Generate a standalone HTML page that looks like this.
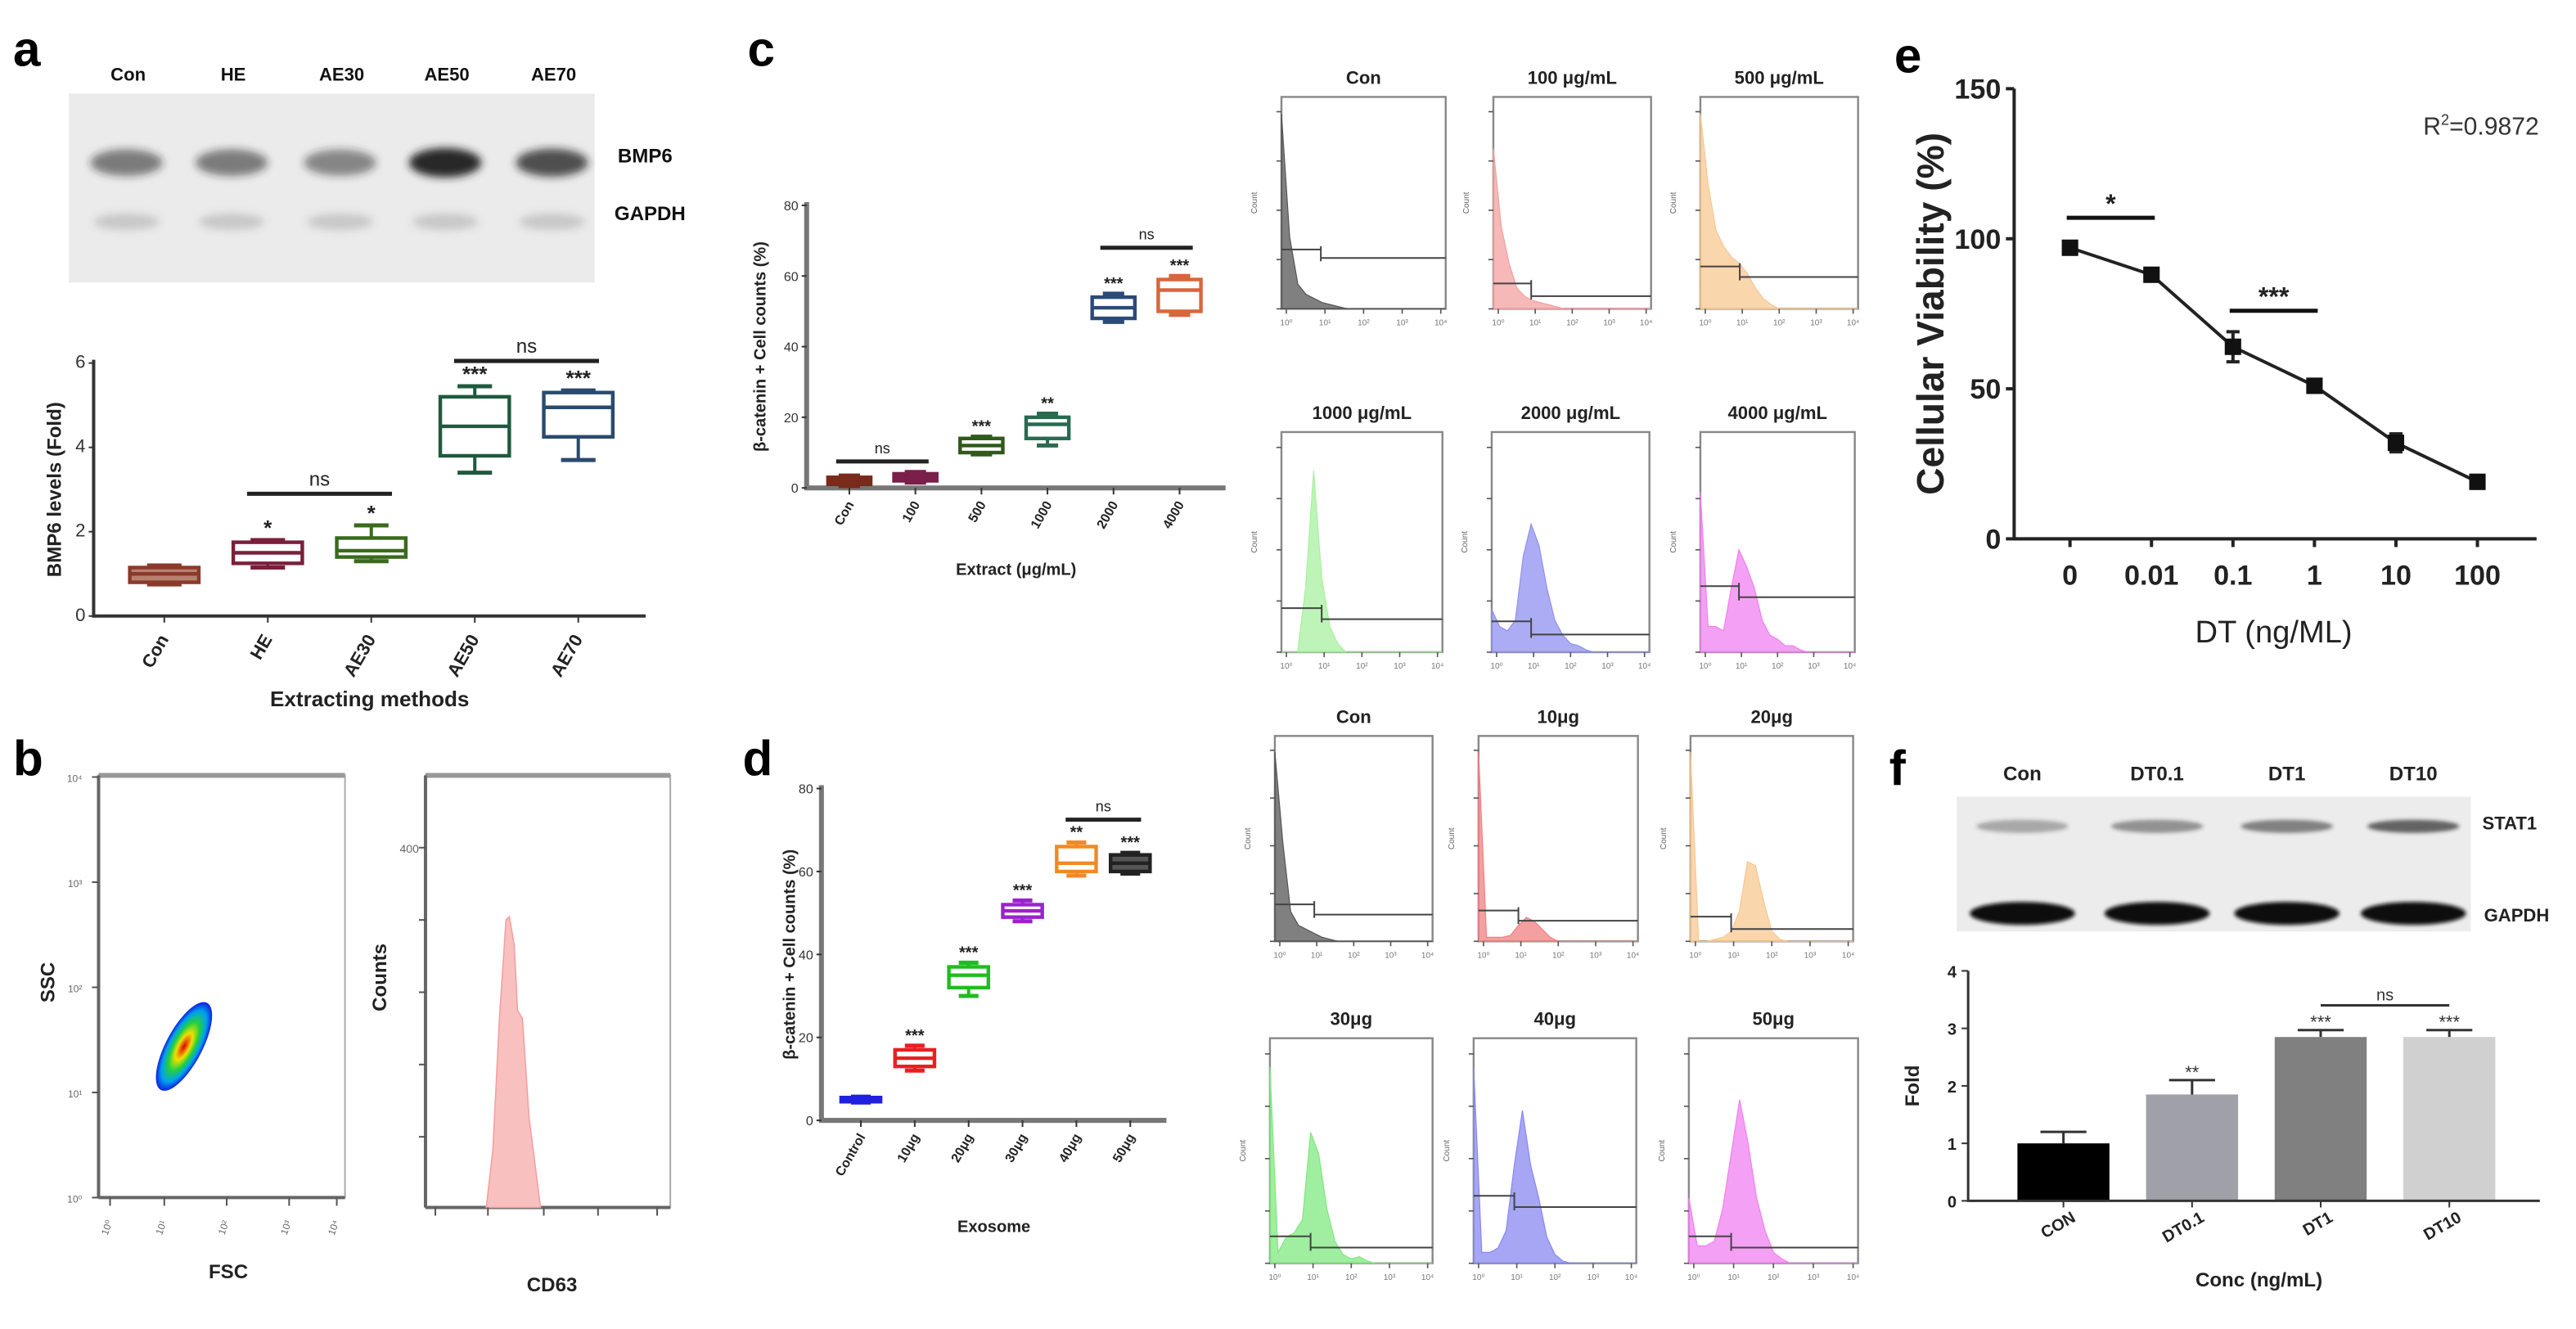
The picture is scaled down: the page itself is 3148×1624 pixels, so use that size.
<!DOCTYPE html>
<html><head><meta charset="utf-8">
<style>
html,body{margin:0;padding:0;background:#fff;}
svg{display:block;font-family:"Liberation Sans",Arial,sans-serif;}
</style></head>
<body>
<svg id="fig" width="3148" height="1624" viewBox="0 0 1568 809" preserveAspectRatio="none" xmlns="http://www.w3.org/2000/svg">
<defs>
<filter id="blur2" x="-30%" y="-80%" width="160%" height="260%"><feGaussianBlur stdDeviation="2.5"/></filter>
<filter id="blur1" x="-30%" y="-80%" width="160%" height="260%"><feGaussianBlur stdDeviation="1.2"/></filter>
<radialGradient id="dens" cx="50%" cy="50%" r="50%">
<stop offset="0" stop-color="#e00000"/><stop offset="0.3" stop-color="#f0e000"/><stop offset="0.55" stop-color="#20d040"/><stop offset="0.8" stop-color="#00a0f0"/><stop offset="1" stop-color="#1020e0"/>
</radialGradient>
</defs>
</svg>
<script>
var aCats=['Con','HE','AE30','AE50','AE70'];
var aLo=[0.75,1.15,1.3,3.4,3.7];
var aQ1=[0.8,1.25,1.4,3.8,4.25];
var aMed=[1.0,1.5,1.55,4.5,4.95];
var aQ3=[1.15,1.75,1.85,5.2,5.3];
var aHi=[1.2,1.8,2.15,5.45,5.35];
var aStars=['','*','*','***','***'];
var aTicks=[0,2,4,6];

var cCats=['Con','100','500','1000','2000','4000'];
var cLo=[0.5,1.5,9.5,12,47,49];
var cQ1=[1,2,10,14,48,50];
var cMed=[2,3,12,18,51,56];
var cQ3=[3,4,14,20,54,59];
var cHi=[3.5,4.5,14.5,21,55,60];
var cStars=['','','***','**','***','***'];
var cTicks=[0,20,40,60,80];

var dCats=['Control','10μg','20μg','30μg','40μg','50μg'];
var dLo=[4.3,12,30,48,59,59.5];
var dQ1=[4.5,13,32,49,60,60];
var dMed=[5,15,35,50.5,62,62];
var dQ3=[5.5,17,37,52,66,64];
var dHi=[5.7,18,38,53,67,64.5];
var dStars=['','***','***','***','**','***'];
var dTicks=[0,20,40,60,80];

var eX=['0','0.01','0.1','1','10','100'];
var eY=[97,88,64,51,32,19];
var eErr=[2,1.5,5,2,3,1.5];
var eTicks=[0,50,100,150];

var fCats=['CON','DT0.1','DT1','DT10'];
var fVal=[1.0,1.85,2.85,2.85];
var fErr=[0.2,0.25,0.12,0.12];
var fStars=['','**','***','***'];
var fTicks=[0,1,2,3,4];

var flowTitles=['Con','100 μg/mL','500 μg/mL','1000 μg/mL','2000 μg/mL','4000 μg/mL','Con','10μg','20μg','30μg','40μg','50μg'];
var flowProfiles=[
[0.95,0.35,0.12,0.07,0.05,0.03,0.02,0.01,0,0,0,0,0,0,0,0,0,0,0,0,0],
[0.78,0.4,0.22,0.1,0.06,0.04,0.03,0.02,0.01,0,0,0,0,0,0,0,0,0,0,0,0],
[0.95,0.6,0.38,0.3,0.25,0.22,0.17,0.1,0.05,0.02,0,0,0,0,0,0,0,0,0,0,0],
[0,0,0,0.3,0.85,0.35,0.12,0.04,0,0,0,0,0,0,0,0,0,0,0,0,0],
[0.2,0.12,0.1,0.15,0.45,0.6,0.5,0.3,0.15,0.08,0.04,0.03,0.01,0,0,0,0,0,0,0,0],
[0.75,0.12,0.12,0.1,0.3,0.48,0.4,0.3,0.15,0.08,0.06,0.03,0.03,0.01,0,0,0,0,0,0,0],
[0.95,0.5,0.15,0.08,0.06,0.04,0.02,0.01,0,0,0,0,0,0,0,0,0,0,0,0,0],
[0.95,0.02,0.02,0.02,0.03,0.08,0.12,0.1,0.06,0.02,0,0,0,0,0,0,0,0,0,0,0],
[0.95,0,0,0.01,0.02,0.05,0.15,0.4,0.38,0.2,0.05,0.01,0,0,0,0,0,0,0,0,0],
[0.9,0.05,0.12,0.14,0.2,0.6,0.5,0.25,0.1,0.04,0.02,0.03,0.01,0,0,0,0,0,0,0,0],
[0.9,0.05,0.05,0.07,0.15,0.45,0.7,0.45,0.3,0.12,0.04,0.01,0,0,0,0,0,0,0,0,0],
[0.3,0.08,0.08,0.1,0.25,0.5,0.75,0.55,0.3,0.15,0.05,0.02,0,0,0,0,0,0,0,0,0]];
var flowGates=[[0.24,0.28,0.24],[0.24,0.12,0.06],[0.25,0.2,0.15],[0.25,0.2,0.15],[0.25,0.14,0.08],[0.25,0.3,0.25],[0.25,0.18,0.13],[0.25,0.15,0.1],[0.25,0.12,0.06],[0.25,0.12,0.07],[0.25,0.3,0.25],[0.25,0.12,0.07]];

var SVGNS='http://www.w3.org/2000/svg';
var root=document.getElementById('fig');
var SUP=['\u2070','\u00B9','\u00B2','\u00B3','\u2074'];
function mk(tag,attrs,par){var e=document.createElementNS(SVGNS,tag);for(var k in attrs){e.setAttribute(k,String(attrs[k]));}(par||root).appendChild(e);return e;}
function txt(x,y,s,attrs,par){var a={x:x,y:y};if(attrs){for(var k in attrs){a[k]=attrs[k];}}var e=mk('text',a,par);e.textContent=s;return e;}
function group(nm){var g=mk('g',{});


return g;}
function label(el,nm){


return el;}

function drawLetters(){
  var letters=[['a',8,40],['c',455,40],['b',8,472],['d',452,472],['e',1153,44],['f',1150,478]];
  letters.forEach(function(l){var t=txt(l[1],l[2],l[0],{'font-size':30,'font-weight':'bold',fill:'#000'});
  
  });
}

function boxPlot(nm,cfg){
  var g=group(nm);
  var sy=function(v){return cfg.y0-(v/cfg.vmax)*(cfg.y0-cfg.yTop);};
  var sx=function(i){return cfg.xs+i*cfg.step;};
  label(mk('path',{d:'M'+cfg.x0+','+(cfg.yTop-2)+'V'+cfg.y0+'H'+cfg.x1,fill:'none',stroke:cfg.axisColor,'stroke-width':cfg.axisW},g),'axis-lines');
  cfg.ticks.forEach(function(t){
    mk('line',{x1:cfg.x0-3,x2:cfg.x0,y1:sy(t),y2:sy(t),stroke:'#333','stroke-width':1},g);
    label(txt(cfg.x0-5,sy(t)+3,String(t),{'font-size':cfg.tf,'text-anchor':'end',fill:'#333'},g),'y-tick-label');
  });
  cfg.cats.forEach(function(c,i){
    var x=sx(i),w=cfg.bw,col=cfg.colors[i];
    var b=mk('g',{},g);
    
    
    mk('line',{x1:x,x2:x,y1:sy(cfg.hi[i]),y2:sy(cfg.lo[i]),stroke:col,'stroke-width':2},b);
    mk('line',{x1:x-w*0.25,x2:x+w*0.25,y1:sy(cfg.hi[i]),y2:sy(cfg.hi[i]),stroke:col,'stroke-width':2.5},b);
    mk('line',{x1:x-w*0.25,x2:x+w*0.25,y1:sy(cfg.lo[i]),y2:sy(cfg.lo[i]),stroke:col,'stroke-width':2.5},b);
    mk('rect',{x:x-w/2,y:sy(cfg.q3[i]),width:w,height:Math.max(1.5,sy(cfg.q1[i])-sy(cfg.q3[i])),fill:cfg.fill[i],stroke:col,'stroke-width':2.2},b);
    mk('line',{x1:x-w/2,x2:x+w/2,y1:sy(cfg.med[i]),y2:sy(cfg.med[i]),stroke:col,'stroke-width':2.2},b);
    mk('line',{x1:x,x2:x,y1:cfg.y0,y2:cfg.y0+4,stroke:'#333','stroke-width':1},g);
    if(cfg.stars[i]){label(txt(x,sy(Math.max(cfg.hi[i],cfg.q3[i]))-3,cfg.stars[i],{'font-size':cfg.tf+2,'text-anchor':'middle','font-weight':'bold',fill:'#222'},g),'significance-stars');}
    var ly=cfg.y0+cfg.labOff;
    label(txt(x+3,ly,c,{'font-size':cfg.tf,'text-anchor':'end','font-weight':'bold',fill:'#222',transform:'rotate(-60 '+(x+3)+' '+ly+')'},g),'x-tick-label');
  });
  cfg.ns.forEach(function(n){
    var yy=sy(n[2]);
    mk('line',{x1:sx(n[0])-cfg.step*0.2,x2:sx(n[1])+cfg.step*0.2,y1:yy,y2:yy,stroke:'#222','stroke-width':2.5},g);
    label(txt((sx(n[0])+sx(n[1]))/2,yy-5,'ns',{'font-size':cfg.tf+1,'text-anchor':'middle',fill:'#222'},g),'ns-label');
  });
  label(txt(0,0,cfg.ylab,{'font-size':cfg.yf,'font-weight':'bold','text-anchor':'middle',fill:'#222',transform:'translate('+cfg.ylx+','+((cfg.y0+cfg.yTop)/2)+') rotate(-90)'},g),'y-axis-title');
  label(txt((cfg.x0+cfg.x1)/2,cfg.xly,cfg.xlab,{'font-size':cfg.xf,'font-weight':'bold','text-anchor':'middle',fill:'#222'},g),'x-axis-title');
}

function drawBlotA(){
  var g=group('western-blot-a');
  mk('rect',{x:42,y:57,width:130,height:115,fill:'#ebebeb'},g);
  mk('rect',{x:42,y:57,width:360,height:115,fill:'#fff'},g);
  mk('rect',{x:42,y:57,width:320,height:115,fill:'#ebebeb'},g);
  var lx=[78,142,208,272,337];
  var bI=[0.55,0.55,0.5,0.95,0.75];
  aCats.forEach(function(c,i){
    label(txt(lx[i],49,c,{'font-size':11,'text-anchor':'middle',fill:'#111','font-weight':'bold'},g),'lane-label');
    label(mk('ellipse',{cx:lx[i]-1,cy:99,rx:22,ry:7+bI[i]*2,fill:'rgba(30,30,30,'+bI[i]+')',filter:'url(#blur2)'},g),'band-bmp6');
    label(mk('ellipse',{cx:lx[i]-1,cy:135,rx:20,ry:5,fill:'rgba(90,90,90,0.25)',filter:'url(#blur2)'},g),'band-gapdh');
  });
  label(txt(376,99,'BMP6',{'font-size':12,'font-weight':'bold',fill:'#111'},g),'protein-label-bmp6');
  label(txt(374,134,'GAPDH',{'font-size':12,'font-weight':'bold',fill:'#111'},g),'protein-label-gapdh');
}

function drawB(){
  var g=group('scatter-ssc-fsc');
  mk('rect',{x:60,y:472,width:150,height:257,fill:'#fff',stroke:'#aaa','stroke-width':1},g);
  mk('line',{x1:60,x2:210,y1:472,y2:472,stroke:'#999','stroke-width':3},g);
  mk('line',{x1:60,x2:210,y1:729,y2:729,stroke:'#666','stroke-width':2},g);
  mk('line',{x1:60,x2:60,y1:472,y2:729,stroke:'#666','stroke-width':2},g);
  for(var i=0;i<5;i++){var y=729-i*64;mk('line',{x1:56,x2:60,y1:y,y2:y,stroke:'#555'},g);
    label(txt(50,y+3,'10'+SUP[i],{'font-size':6,fill:'#666','text-anchor':'end'},g),'y-tick-label');}
  [67,100,138,176,205].forEach(function(x,i){mk('line',{x1:x,x2:x,y1:729,y2:734,stroke:'#555'},g);
    label(txt(x,748,'10'+SUP[i],{'font-size':6,fill:'#666','text-anchor':'middle',transform:'rotate(-70 '+x+' 748)'},g),'x-tick-label');});
  label(mk('ellipse',{cx:112,cy:637,rx:11,ry:30,fill:'url(#dens)',transform:'rotate(28 112 637)'},g),'density-contour');
  label(txt(0,0,'SSC',{'font-size':12,'font-weight':'bold',fill:'#222','text-anchor':'middle',transform:'translate(33,598) rotate(-90)'},g),'y-axis-title');
  label(txt(139,778,'FSC',{'font-size':12,'font-weight':'bold',fill:'#222','text-anchor':'middle'},g),'x-axis-title');

  var h=group('histogram-cd63');
  mk('rect',{x:259,y:472,width:149,height:263,fill:'#fff',stroke:'#aaa','stroke-width':1},h);
  mk('line',{x1:259,x2:408,y1:472,y2:472,stroke:'#999','stroke-width':3},h);
  mk('line',{x1:259,x2:408,y1:735,y2:735,stroke:'#666','stroke-width':2},h);
  mk('line',{x1:259,x2:259,y1:472,y2:735,stroke:'#666','stroke-width':2},h);
  label(mk('path',{d:'M296,735 L300,700 L304,620 L308,560 L310,558 L313,575 L315,615 L318,620 L322,680 L329,735 Z',fill:'#f9c0c0',stroke:'#f4a0a0','stroke-width':0.8},h),'cd63-peak');
  label(txt(255,519,'400',{'font-size':7,fill:'#666','text-anchor':'end'},h),'y-tick-label');
  [516,560,604,648,692].forEach(function(y){mk('line',{x1:255,x2:259,y1:y,y2:y,stroke:'#555'},h);});
  [265,297,331,364,400].forEach(function(x){mk('line',{x1:x,x2:x,y1:735,y2:740,stroke:'#555'},h);});
  label(txt(0,0,'Counts',{'font-size':12,'font-weight':'bold',fill:'#222','text-anchor':'middle',transform:'translate(235,595) rotate(-90)'},h),'y-axis-title');
  label(txt(336,786,'CD63',{'font-size':12,'font-weight':'bold',fill:'#222','text-anchor':'middle'},h),'x-axis-title');
}

function drawFlow(){
  var fr=[[780,59,100,129],[909,59,96,129],[1035,59,96,129],
          [780,263,98,134],[908,263,96,134],[1035,263,94,134],
          [776,448,96,125],[900,448,97,125],[1029,448,99,125],
          [773,632,99,137],[897,632,99,137],[1028,632,103,137]];
  var cols=['#555','#f4a0a0','#f8c890','#a8f0a0','#9090f0','#f080f0','#555','#f08080','#f8c890','#80e880','#8888f0','#f080f0'];
  flowTitles.forEach(function(title,i){
    var x=fr[i][0],y=fr[i][1],w=fr[i][2],h=fr[i][3];
    var g=group('flow-histogram-'+(i+1));
    mk('rect',{x:x,y:y,width:w,height:h,fill:'#fff',stroke:'#888','stroke-width':1.2},g);
    var pr=flowProfiles[i];var d='M'+x+','+(y+h);
    pr.forEach(function(v,k){d+=' L'+(x+k*w/(pr.length-1))+','+(y+h-v*h*0.97);});
    d+=' L'+(x+w)+','+(y+h)+' Z';
    label(mk('path',{d:d,fill:cols[i],'fill-opacity':0.75,stroke:cols[i],'stroke-width':0.6},g),'histogram-fill');
    var gt=flowGates[i];var gx=x+gt[0]*w,gy1=y+h-gt[1]*h,gy2=y+h-gt[2]*h;
    label(mk('path',{d:'M'+x+','+gy1+'H'+gx+'M'+gx+','+(gy1-2)+'V'+(gy2+2)+'M'+gx+','+gy2+'H'+(x+w),fill:'none',stroke:'#444','stroke-width':1},g),'gate-marker');
    for(var k=0;k<5;k++){var yy=y+h-k*h/4.3;mk('line',{x1:x-3,x2:x,y1:yy,y2:yy,stroke:'#555','stroke-width':0.8},g);}
    for(var k2=0;k2<5;k2++){var xx=x+3+k2*(w-6)/4;mk('line',{x1:xx,x2:xx,y1:y+h,y2:y+h+3,stroke:'#555','stroke-width':0.8},g);
      label(txt(xx,y+h+10,'10'+SUP[k2],{'font-size':5,fill:'#777','text-anchor':'middle'},g),'x-tick-label');}
    label(txt(0,0,'Count',{'font-size':5,fill:'#666','text-anchor':'middle',transform:'translate('+(x-15)+','+(y+h/2)+') rotate(-90)'},g),'y-axis-title');
    label(txt(x+w/2,y-8,title,{'font-size':11,'font-weight':'bold',fill:'#222','text-anchor':'middle'},g),'histogram-title');
  });
}

function drawE(){
  var g=group('line-chart-e');
  var x0=1226,x1=1544,y0=328,yTop=54;
  var sy=function(v){return y0-v/150*(y0-yTop);};
  var sx=function(i){return 1260+i*49.6;};
  label(mk('path',{d:'M'+x0+','+yTop+'V'+y0+'H'+x1,fill:'none',stroke:'#222','stroke-width':2},g),'axis-lines');
  eTicks.forEach(function(t){mk('line',{x1:x0-5,x2:x0,y1:sy(t),y2:sy(t),stroke:'#222','stroke-width':2},g);
    label(txt(x0-8,sy(t)+6,String(t),{'font-size':17,'font-weight':'bold','text-anchor':'end',fill:'#222'},g),'y-tick-label');});
  var d='';
  eX.forEach(function(c,i){d+=(i?'L':'M')+sx(i)+','+sy(eY[i]);
    mk('line',{x1:sx(i),x2:sx(i),y1:y0,y2:y0+5,stroke:'#222','stroke-width':2},g);
    label(txt(sx(i),y0+28,c,{'font-size':17,'font-weight':'bold','text-anchor':'middle',fill:'#222'},g),'x-tick-label');});
  label(mk('path',{d:d,fill:'none',stroke:'#222','stroke-width':2},g),'viability-line');
  eX.forEach(function(c,i){
    var pg=mk('g',{},g);
    
    
    var t1=sy(eY[i]+eErr[i]),t2=sy(eY[i]-eErr[i]);
    mk('path',{d:'M'+(sx(i)-4)+','+t1+'H'+(sx(i)+4)+'M'+sx(i)+','+t1+'V'+t2+'M'+(sx(i)-4)+','+t2+'H'+(sx(i)+4),stroke:'#222','stroke-width':2,fill:'none'},pg);
    mk('rect',{x:sx(i)-5,y:sy(eY[i])-5,width:10,height:10,fill:'#111'},pg);
  });
  [[0,1,107,'*'],[2,3,76,'***']].forEach(function(s){
    var yy=sy(s[2]);mk('line',{x1:sx(s[0])-2,x2:sx(s[1])+2,y1:yy,y2:yy,stroke:'#111','stroke-width':2.5},g);
    label(txt((sx(s[0])+sx(s[1]))/2,yy-3,s[3],{'font-size':16,'font-weight':'bold','text-anchor':'middle',fill:'#222'},g),'significance-stars');});
  var r=label(txt(1475,82,'R',{'font-size':15,fill:'#333'},g),'r-squared-label');
  var ts=mk('tspan',{dy:-6,'font-size':9},r);ts.textContent='2';
  var ts2=mk('tspan',{dy:6},r);ts2.textContent='=0.9872';
  label(txt(0,0,'Cellular Viability (%)',{'font-size':23,'font-weight':'bold','text-anchor':'middle',fill:'#222',transform:'translate(1183,191) rotate(-90)'},g),'y-axis-title');
  label(txt(1384,391,'DT (ng/ML)',{'font-size':19,'text-anchor':'middle',fill:'#222'},g),'x-axis-title');
}

function drawF(){
  var g=group('western-blot-f');
  mk('rect',{x:1191,y:485,width:313,height:82,fill:'#ececec'},g);
  var lx=[1231,1313,1392,1469];
  var lab=['Con','DT0.1','DT1','DT10'];
  var si=[0.35,0.45,0.55,0.7];
  lab.forEach(function(c,i){
    label(txt(lx[i],475,c,{'font-size':12,'font-weight':'bold','text-anchor':'middle',fill:'#222'},g),'lane-label');
    label(mk('ellipse',{cx:lx[i],cy:503,rx:28,ry:4,fill:'rgba(40,40,40,'+si[i]+')',filter:'url(#blur1)'},g),'band-stat1');
    label(mk('ellipse',{cx:lx[i],cy:556,rx:32,ry:7,fill:'#0a0a0a',filter:'url(#blur1)'},g),'band-gapdh');
  });
  label(txt(1511,505,'STAT1',{'font-size':11,'font-weight':'bold',fill:'#222'},g),'protein-label-stat1');
  label(txt(1512,561,'GAPDH',{'font-size':11,'font-weight':'bold',fill:'#222'},g),'protein-label-gapdh');

  var cg=group('bar-chart-f');
  var x0=1198,x1=1546,y0=731,yTop=591;
  var sy=function(v){return y0-v/4*(y0-yTop);};
  var sx=function(i){return 1256+i*78.3;};
  var cols=['#000','#a0a0a8','#808080','#d0d0d0'];
  fCats.forEach(function(n,i){
    var br=mk('rect',{x:sx(i)-28,y:sy(fVal[i]),width:56,height:y0-sy(fVal[i]),fill:cols[i]},cg);
    
    
    var e1=sy(fVal[i]+fErr[i]);
    mk('path',{d:'M'+sx(i)+','+sy(fVal[i])+'V'+e1+'M'+(sx(i)-14)+','+e1+'H'+(sx(i)+14),stroke:'#333','stroke-width':1.5,fill:'none'},cg);
    if(fStars[i]){label(txt(sx(i),e1-1,fStars[i],{'font-size':11,'text-anchor':'middle',fill:'#333'},cg),'significance-stars');}
    mk('line',{x1:sx(i),x2:sx(i),y1:y0,y2:y0+4,stroke:'#333'},cg);
    var lx2=sx(i)+8,ly2=y0+12;
    label(txt(lx2,ly2,n,{'font-size':10,'font-weight':'bold','text-anchor':'end',fill:'#222',transform:'rotate(-30 '+lx2+' '+ly2+')'},cg),'x-tick-label');
  });
  label(mk('path',{d:'M'+x0+','+yTop+'V'+y0+'H'+x1,fill:'none',stroke:'#333','stroke-width':1.5},cg),'axis-lines');
  fTicks.forEach(function(t){mk('line',{x1:x0-4,x2:x0,y1:sy(t),y2:sy(t),stroke:'#333'},cg);
    label(txt(x0-7,sy(t)+4,String(t),{'font-size':10,'font-weight':'bold','text-anchor':'end',fill:'#222'},cg),'y-tick-label');});
  var nsy=sy(3.4);
  mk('line',{x1:sx(2),x2:sx(3),y1:nsy,y2:nsy,stroke:'#333','stroke-width':1.5},cg);
  label(txt((sx(2)+sx(3))/2,nsy-3,'ns',{'font-size':10,'text-anchor':'middle',fill:'#333'},cg),'ns-label');
  label(txt(0,0,'Fold',{'font-size':12,'font-weight':'bold','text-anchor':'middle',fill:'#222',transform:'translate(1168,661) rotate(-90)'},cg),'y-axis-title');
  label(txt(1375,783,'Conc (ng/mL)',{'font-size':12,'font-weight':'bold','text-anchor':'middle',fill:'#222'},cg),'x-axis-title');
}

var steps=[
 drawLetters,
 drawBlotA,
 function(){boxPlot('boxplot-a',{cats:aCats,lo:aLo,q1:aQ1,med:aMed,q3:aQ3,hi:aHi,stars:aStars,ticks:aTicks,vmax:6,
  x0:57,x1:393,y0:375,yTop:221,xs:100,step:63,bw:42,axisColor:'#333',axisW:2,tf:11,
  colors:['#8a3a2a','#7a1f3a','#3a6a1e','#1f5a3e','#2a4a6e'],fill:['#b88070','#fff','#fff','#fff','#fff'],
  ns:[[1,2,2.9],[3,4,6.05]],labOff:14,ylab:'BMP6 levels (Fold)',ylx:37,yf:12,xlab:'Extracting methods',xly:430,xf:13});},
 function(){boxPlot('boxplot-c',{cats:cCats,lo:cLo,q1:cQ1,med:cMed,q3:cQ3,hi:cHi,stars:cStars,ticks:cTicks,vmax:80,
  x0:491,x1:746,y0:297,yTop:125,xs:517,step:40.2,bw:26,axisColor:'#777',axisW:3,tf:8,
  colors:['#7a2a1a','#7a1f4a','#2f5a1a','#2a6a50','#2a4a78','#d8663a'],fill:['#a05040','#a04070','#fff','#fff','#fff','#fff'],
  ns:[[0,1,7.5],[4,5,68]],labOff:10,ylab:'β-catenin + Cell counts (%)',ylx:466,yf:10,xlab:'Extract (μg/mL)',xly:350,xf:10});},
 function(){boxPlot('boxplot-d',{cats:dCats,lo:dLo,q1:dQ1,med:dMed,q3:dQ3,hi:dHi,stars:dStars,ticks:dTicks,vmax:80,
  x0:500,x1:710,y0:682,yTop:480,xs:524,step:32.8,bw:24,axisColor:'#777',axisW:3,tf:8,
  colors:['#2020e0','#e82020','#22bb22','#9a22cc','#f08a24','#222'],fill:['#2020e0','#fff','#fff','#fff','#fff','#555'],
  ns:[[4,5,72.5]],labOff:10,ylab:'β-catenin + Cell counts (%)',ylx:484,yf:10,xlab:'Exosome',xly:750,xf:10});},
 drawB, drawFlow, drawE, drawF];
steps.forEach(function(fn){try{fn();}catch(err){if(window.console)console.log(err);}});
</script>
</body></html>
